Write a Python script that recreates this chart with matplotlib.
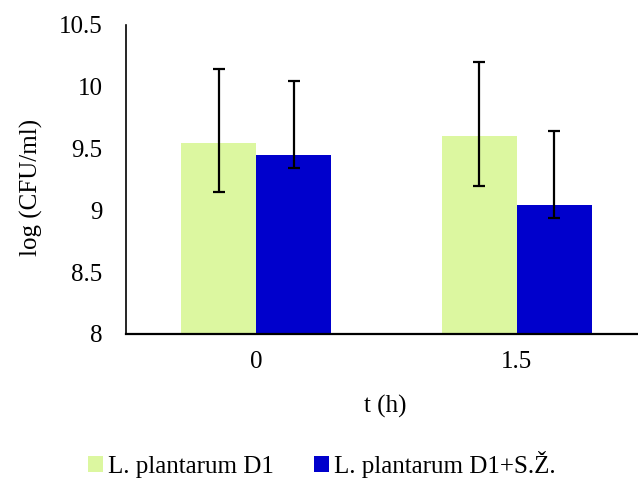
import matplotlib
matplotlib.use("Agg")
import matplotlib.pyplot as plt
import numpy as np

categories = ["0", "1.5"]
series_names = ["L. plantarum D1", "L. plantarum D1+S.Ž."]
d1_values = [9.545, 9.60]
d1s_values = [9.445, 9.04]
d1_err_low = [0.40, 0.40]
d1_err_high = [0.60, 0.60]
d1s_err_low = [0.10, 0.10]
d1s_err_high = [0.60, 0.60]
colors = ["#dcf7a0", "#0000cc"]

plt.rcParams['font.family'] = ['Liberation Serif', 'DejaVu Serif']

W, H = 638, 488
fig = plt.figure(figsize=(W/100, H/100), dpi=100)
ax = fig.add_axes([126/W, 1-334/H, 1-126/W, (334-25)/H])

x = np.arange(len(categories))
w = 0.287
ek = dict(ecolor="black", elinewidth=1.6, capsize=4.5, capthick=1.6)
ax.bar(x - w/2, d1_values, w, color=colors[0], label=series_names[0],
       yerr=[d1_err_low, d1_err_high], error_kw=ek, zorder=2)
ax.bar(x + w/2, d1s_values, w, color=colors[1], label=series_names[1],
       yerr=[d1s_err_low, d1s_err_high], error_kw=ek, zorder=2)

ax.set_ylim(8, 10.5)
ax.set_xlim(-0.5, 1.465)
ax.set_yticks(np.arange(8, 10.51, 0.5))
ax.set_yticklabels(["8", "8.5", "9", "9.5", "10", "10.5"])
ax.set_xticks(x)
ax.set_xticklabels(categories)
ax.tick_params(axis='both', length=0, labelsize=18)
ax.tick_params(axis='x', pad=12)
ax.tick_params(axis='y', pad=17)
for s in ["top", "right"]:
    ax.spines[s].set_visible(False)
ax.spines["left"].set_linewidth(1.2)
ax.spines["bottom"].set_linewidth(1.6)

fig.text(31/W, 1-187/H, "log (CFU/ml)", fontsize=18, rotation=90,
         ha="center", va="center")
fig.text(385/W, 1-406/H, "t (h)", fontsize=18, ha="center", va="center")

leg = fig.legend(loc="center", bbox_to_anchor=(322/W, 1-464/H), ncol=2,
                 frameon=False, fontsize=18, handlelength=0.6, handleheight=0.6,
                 handletextpad=0.2, columnspacing=1.6)

fig.savefig("out.png", dpi=100)
